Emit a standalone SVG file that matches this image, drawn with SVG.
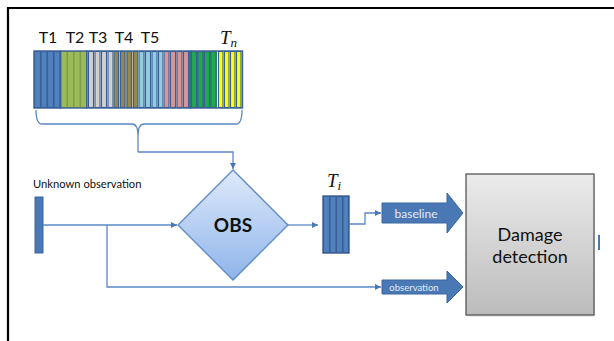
<svg xmlns="http://www.w3.org/2000/svg" width="614" height="341" viewBox="0 0 614 341">
<style>
.lbl{font-family:Lato,"Liberation Sans",sans-serif;fill:#111}
.math{font-family:"Liberation Serif",serif;font-style:italic;fill:#111}
.conn{fill:none;stroke:#5b88c6;stroke-width:1.3}
.grp{fill:none;stroke:#3a5f96;stroke-width:1.4}
.st{stroke:#3a5f96;stroke-width:1.1}
.arrowblk{fill:#4a78b5;stroke:#3a66a3;stroke-width:1}
</style>
<defs>
<marker id="ah" viewBox="0 0 10 10" refX="10" refY="5" markerWidth="6" markerHeight="6" orient="auto" markerUnits="userSpaceOnUse">
<path d="M0,0 L10,5 L0,10 z" fill="#4a78b5"/>
</marker>
<linearGradient id="dg" x1="0" y1="0" x2="0" y2="1">
<stop offset="0" stop-color="#dfeafb"/>
<stop offset="1" stop-color="#8fb4ea"/>
</linearGradient>
<linearGradient id="bg" x1="0" y1="0" x2="0" y2="1">
<stop offset="0" stop-color="#ebebeb"/>
<stop offset="1" stop-color="#bcbcbc"/>
</linearGradient>
</defs>
<rect width="614" height="341" fill="#fff"/>
<path d="M8,341 V8 H614" fill="none" stroke="#000" stroke-width="2.2"/>

<g id="labels-T">
<text class="lbl" x="48" y="43" font-size="16" text-anchor="middle">T1</text>
<text class="lbl" x="75" y="43" font-size="16" text-anchor="middle">T2</text>
<text class="lbl" x="98" y="43" font-size="16" text-anchor="middle">T3</text>
<text class="lbl" x="124" y="43" font-size="16" text-anchor="middle">T4</text>
<text class="lbl" x="150" y="43" font-size="16" text-anchor="middle">T5</text>
<text class="math" x="220" y="44" font-size="19">T<tspan font-size="13" dy="3">n</tspan></text>
</g>

<g id="templates">
<!-- T1 blue -->
<rect x="34" y="51" width="26.5" height="57" fill="#4f81bd"/>
<g fill="#4f81bd" class="st">
<rect x="34.5" y="51.5" width="6" height="56"/><rect x="41" y="51.5" width="6" height="56"/><rect x="47.5" y="51.5" width="6" height="56"/><rect x="54" y="51.5" width="6" height="56"/>
</g>
<rect x="34" y="51" width="26.5" height="57" class="grp"/>
<!-- T2 green -->
<rect x="60.5" y="51" width="26.5" height="57" fill="#9bbb59"/>
<g fill="#9bbb59" stroke="#7f9c48" stroke-width="1">
<rect x="61" y="51.5" width="6" height="56"/><rect x="67.5" y="51.5" width="6" height="56"/><rect x="74" y="51.5" width="6" height="56"/><rect x="80.5" y="51.5" width="6" height="56"/>
</g>
<rect x="60.5" y="51" width="26.5" height="57" class="grp"/>
<!-- T3 gray -->
<rect x="87" y="51" width="26" height="57" fill="#f4f4f4"/>
<g fill="#d0d0d0" class="st">
<rect x="88.5" y="51.5" width="5" height="56"/><rect x="95" y="51.5" width="5" height="56"/><rect x="101.5" y="51.5" width="5" height="56"/><rect x="108" y="51.5" width="5" height="56"/>
</g>
<!-- T4 brown -->
<rect x="113" y="51" width="25" height="57" fill="#c9c1a4"/>
<g fill="#938953" class="st">
<rect x="114" y="51.5" width="4.5" height="56"/><rect x="120.5" y="51.5" width="4.5" height="56"/><rect x="127" y="51.5" width="4.5" height="56"/><rect x="133.5" y="51.5" width="4.5" height="56"/>
</g>
<!-- T5 light blue -->
<rect x="138" y="51" width="25" height="57" fill="#c9e6ee"/>
<g fill="#93cddd" class="st">
<rect x="139" y="51.5" width="5" height="56"/><rect x="145.5" y="51.5" width="5" height="56"/><rect x="152" y="51.5" width="5" height="56"/><rect x="158.5" y="51.5" width="4.5" height="56"/>
</g>
<!-- pink -->
<rect x="163" y="51" width="27" height="57" fill="#eccac9"/>
<g fill="#d99694" class="st">
<rect x="164" y="51.5" width="5" height="56"/><rect x="170.5" y="51.5" width="5" height="56"/><rect x="177" y="51.5" width="5" height="56"/><rect x="183.5" y="51.5" width="5" height="56"/>
</g>
<rect x="87" y="51" width="103" height="57" class="grp"/>
<!-- green -->
<rect x="190" y="51" width="27" height="57" fill="#1f9f48"/>
<g fill="#1fab4c" class="st">
<rect x="191.5" y="51.5" width="5" height="56"/><rect x="198" y="51.5" width="5" height="56"/><rect x="204.5" y="51.5" width="5" height="56"/><rect x="211" y="51.5" width="5" height="56"/>
</g>
<!-- yellow -->
<rect x="217" y="51" width="25.5" height="57" fill="#fff"/>
<g fill="#ffff00" class="st">
<rect x="218.5" y="51.5" width="4.5" height="56"/><rect x="224.5" y="51.5" width="4.5" height="56"/><rect x="230.5" y="51.5" width="4.5" height="56"/><rect x="236.5" y="51.5" width="4.5" height="56"/>
</g>
<rect x="190" y="51" width="52.5" height="57" class="grp"/>
</g>

<g id="unknown-observation">
<text class="lbl" x="33" y="188" font-size="11.2">Unknown observation</text>
<rect x="35" y="197" width="8" height="56" fill="#4a78b5" stroke="#3a66a3" stroke-width="1"/>
</g>

<g id="obs">
<polygon points="233,170 288,225 233,280 178,225" fill="url(#dg)" stroke="#5b88c6" stroke-width="1.3"/>
<text class="lbl" x="233" y="232" font-size="19" font-weight="bold" text-anchor="middle">OBS</text>
</g>

<g id="ti">
<text class="math" x="327" y="187" font-size="19">T<tspan font-size="13" dy="3">i</tspan></text>
<rect x="323" y="196" width="26" height="57" fill="#4f81bd"/>
<g fill="#4f81bd" class="st">
<rect x="323.5" y="196.5" width="6" height="56"/><rect x="330" y="196.5" width="6" height="56"/><rect x="336.5" y="196.5" width="6" height="56"/><rect x="343" y="196.5" width="5.5" height="56"/>
</g>
<rect x="323" y="196" width="26" height="57" class="grp"/>
</g>

<g id="baseline">
<polygon class="arrowblk" points="382,203 447,203 447,193 463,213 447,233 447,223 382,223"/>
<text x="416" y="217.5" font-size="12" text-anchor="middle" font-family="Lato,'Liberation Sans',sans-serif" fill="#e3ebf6">baseline</text>
</g>

<g id="observation">
<polygon class="arrowblk" points="382,280 447,280 447,271 463,287 447,303 447,294 382,294"/>
<text x="414" y="290.5" font-size="9.5" text-anchor="middle" font-family="Lato,'Liberation Sans',sans-serif" fill="#e3ebf6">observation</text>
</g>

<g id="damage-detection">
<rect x="467" y="176" width="128" height="141" fill="#d9d9d9" opacity="0.5"/>
<rect x="466" y="174" width="128" height="141" fill="url(#bg)" stroke="#555" stroke-width="1.3"/>
<text class="lbl" x="530" y="241" font-size="18" text-anchor="middle" fill="#222">Damage</text>
<text class="lbl" x="530" y="263" font-size="18" text-anchor="middle" fill="#222">detection</text>
<rect x="598" y="235" width="2" height="15" fill="#4a78b5"/>
</g>

<g id="connectors">
<path class="conn" d="M36,110 Q36,124 42,124 H132 Q138,124 138,136 V152 M138,136 Q138,124 144,124 H236 Q242,124 242,110"/>
<path class="conn" d="M138,152 H233 V169" marker-end="url(#ah)"/>
<path class="conn" d="M43,225 H177" marker-end="url(#ah)"/>
<path class="conn" d="M107,225 V287 H381" marker-end="url(#ah)"/>
<path class="conn" d="M288,225 H318" marker-end="url(#ah)"/>
<path class="conn" d="M349,224 H365 V213 H381" marker-end="url(#ah)"/>
</g>
</svg>
